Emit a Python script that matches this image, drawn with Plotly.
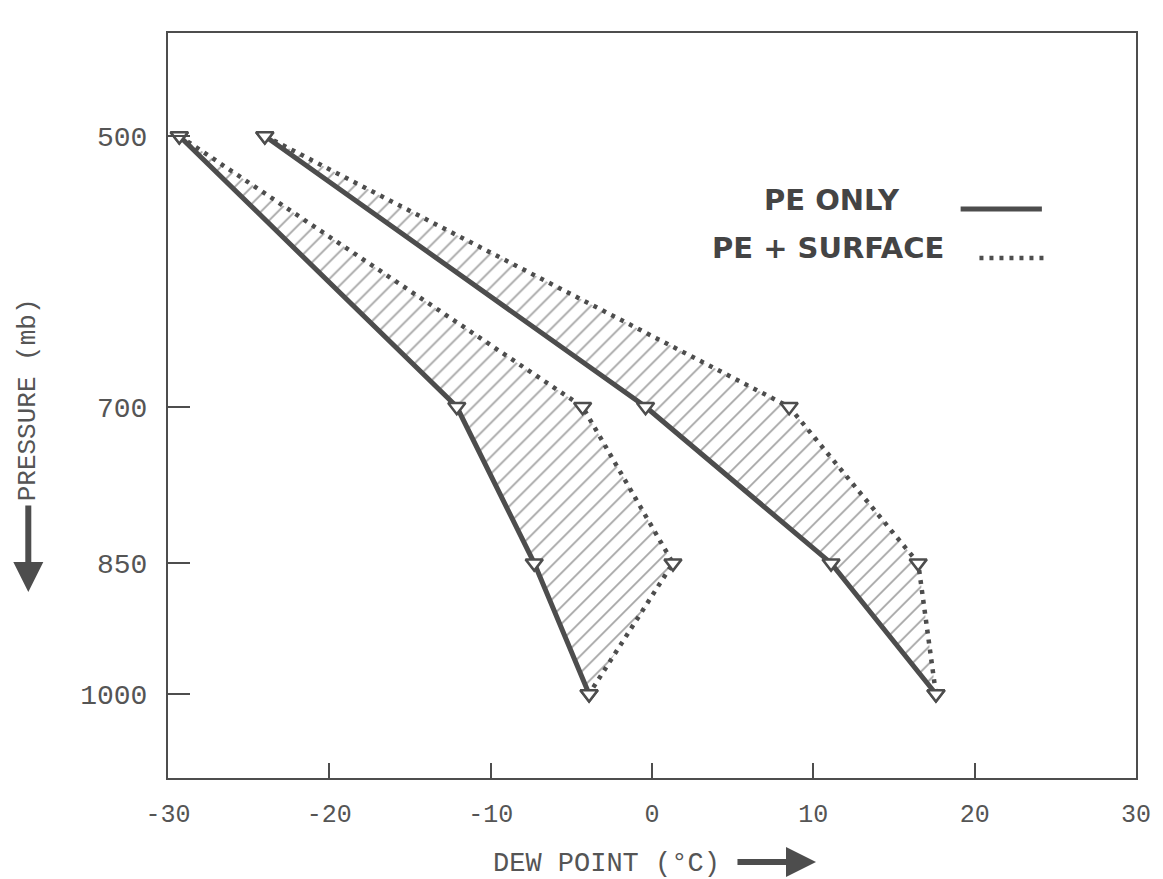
import math
import plotly.graph_objects as go

# ---------------- data ----------------
pressure_levels = [500, 700, 850, 1000]          # mb
left_pe_only = [-29.3, -12.1, -7.3, -3.9]        # dew point (C)
left_pe_surface = [-29.3, -4.3, 1.3, -3.9]
right_pe_only = [-24.0, -0.4, 11.1, 17.6]
right_pe_surface = [-24.0, 8.5, 16.5, 17.6]

x_ticks = [-30, -20, -10, 0, 10, 20, 30]
x_tick_labels = ["-30", "-20", "-10", "0", "10", "20", "30"]
y_ticks = [500, 700, 850, 1000]
y_tick_labels = ["500", "700", "850", "1000"]

INK = "#4d4d4d"
TXT = "#555555"

fig = go.Figure()

# hatched areas between the two curves of each pair
for solid, dotted in [(left_pe_only, left_pe_surface), (right_pe_only, right_pe_surface)]:
    fig.add_trace(go.Scatter(
        x=solid + dotted[::-1],
        y=pressure_levels + pressure_levels[::-1],
        mode="lines", line=dict(width=0, color="rgba(0,0,0,0)"),
        fill="toself", fillcolor="rgba(0,0,0,0)",
        fillpattern=dict(shape="/", fgcolor="#4a4a4a", bgcolor="rgba(0,0,0,0)",
                         size=12, solidity=0.15),
        hoverinfo="skip", showlegend=False))

# curves
for xs, name in [(left_pe_only, "PE ONLY"), (right_pe_only, "PE ONLY")]:
    fig.add_trace(go.Scatter(x=xs, y=pressure_levels, mode="lines", name=name,
                             line=dict(color=INK, width=5), showlegend=False))
for xs, name in [(left_pe_surface, "PE + SURFACE"), (right_pe_surface, "PE + SURFACE")]:
    fig.add_trace(go.Scatter(x=xs, y=pressure_levels, mode="lines", name=name,
                             line=dict(color=INK, width=4.5, dash="4px,6px"), showlegend=False))

# triangle markers
for xs in [left_pe_only, left_pe_surface, right_pe_only, right_pe_surface]:
    fig.add_trace(go.Scatter(x=xs, y=pressure_levels, mode="markers",
                             marker=dict(symbol="triangle-down", size=15, color="white",
                                         line=dict(color=INK, width=2.5)),
                             showlegend=False, hoverinfo="x+y"))

# ---------------- layout ----------------
# the page body has an 8px margin: the figure is sized/offset to compensate
OFF = 8
W, H = 1163 - OFF, 879 - OFF
L, T = 168 - OFF, 33 - OFF
B = H - (778 - OFF)
R = W - (1145 - OFF)
pw, ph = W - L - R, H - T - B


def px(xp):
    """reference screen x pixel -> paper fraction"""
    return (xp - 168) / pw


def py(yp):
    """reference screen y pixel -> paper fraction"""
    return (778 - yp) / ph


fig.update_layout(
    width=W, height=H,
    margin=dict(l=L, r=R, t=T, b=B),
    paper_bgcolor="white", plot_bgcolor="white",
    showlegend=False,
    xaxis=dict(range=[-30, 30], tickvals=x_ticks, ticktext=x_tick_labels,
               ticks="inside", ticklen=15, tickwidth=2, tickcolor=INK,
               showline=True, linewidth=2, linecolor=INK, mirror=True,
               showgrid=False, zeroline=False, ticklabelstandoff=12,
               tickfont=dict(family="Liberation Mono", size=25, color=TXT)),
    yaxis=dict(type="log", range=[math.log10(1110), math.log10(440)],
               tickvals=y_ticks, ticktext=y_tick_labels,
               ticks="inside", ticklen=22, tickwidth=2, tickcolor=INK,
               showline=True, linewidth=2, linecolor=INK, mirror=True,
               showgrid=False, zeroline=False, ticklabelstandoff=13,
               tickfont=dict(family="Liberation Mono", size=28, color=TXT)),
)

annotations = [
    dict(text="DEW POINT (°C)", x=px(611), y=py(864), xref="paper", yref="paper",
         xanchor="center", yanchor="middle", showarrow=False,
         font=dict(family="Liberation Mono", size=27, color=TXT)),
    dict(text="PRESSURE (mb)", x=px(27), y=py(400), xref="paper", yref="paper",
         xanchor="center", yanchor="middle", textangle=-90, showarrow=False,
         font=dict(family="Liberation Mono", size=26, color=TXT)),
    # arrows next to the axis titles
    dict(text="", x=px(822), y=py(862), xref="paper", yref="paper",
         showarrow=True, ax=-80, ay=0, arrowhead=2, arrowsize=1, arrowwidth=6,
         arrowcolor=INK),
    dict(text="", x=px(27), y=py(592), xref="paper", yref="paper",
         showarrow=True, ax=0, ay=-88, arrowhead=2, arrowsize=1, arrowwidth=6,
         arrowcolor=INK),
    # legend texts
    dict(text="PE ONLY", x=px(768), y=py(200), xref="paper", yref="paper",
         xanchor="left", yanchor="middle", showarrow=False,
         font=dict(family="DejaVu Sans", size=29, weight="bold", color="#444444")),
    dict(text="PE + SURFACE", x=px(715), y=py(248), xref="paper", yref="paper",
         xanchor="left", yanchor="middle", showarrow=False,
         font=dict(family="DejaVu Sans", size=29, weight="bold", color="#444444")),
]
fig.update_layout(annotations=annotations)

fig.update_layout(shapes=[
    dict(type="line", xref="paper", yref="paper", x0=px(968), x1=px(1050),
         y0=py(209), y1=py(209), line=dict(color=INK, width=5)),
    dict(type="line", xref="paper", yref="paper", x0=px(987), x1=px(1055),
         y0=py(258), y1=py(258), line=dict(color=INK, width=4.5, dash="4px,6px")),
])

fig.write_html("out.html")
